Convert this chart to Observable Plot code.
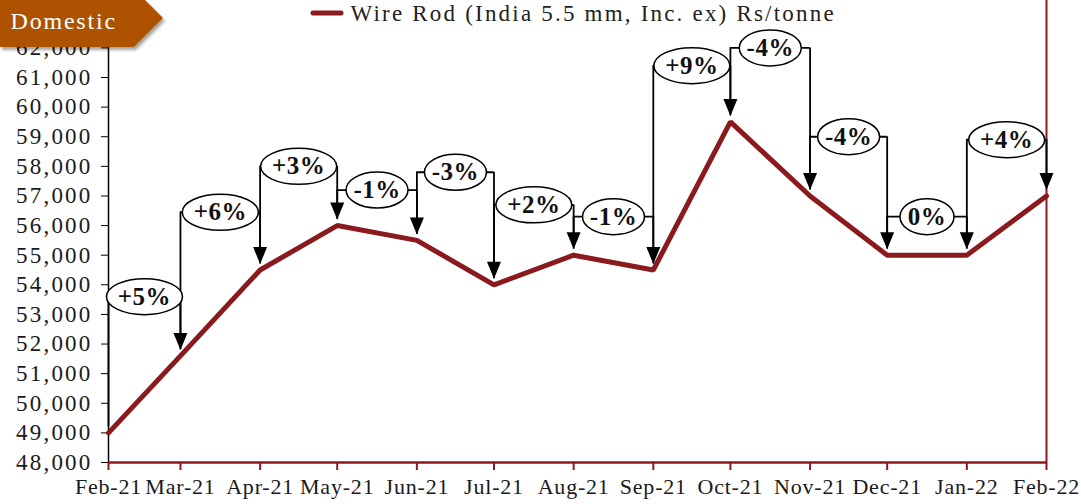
<!DOCTYPE html>
<html><head><meta charset="utf-8">
<script src="https://cdn.jsdelivr.net/npm/d3@7"></script>
<script src="https://cdn.jsdelivr.net/npm/@observablehq/plot@0.6"></script>
<style>
body{margin:0;background:#fff;}
#wrap{position:relative;width:1081px;height:504px;overflow:hidden;}
</style></head>
<body>
<div id="wrap">
  <div id="chart"></div>
</div>
<script>
const months = ["Feb-21","Mar-21","Apr-21","May-21","Jun-21","Jul-21","Aug-21","Sep-21","Oct-21","Nov-21","Dec-21","Jan-22","Feb-22"];
const prices = [49000, 51600, 54500, 56000, 55500, 54000, 55000, 54500, 59500, 57000, 55000, 55000, 57000];
const changes = ["+5%","+6%","+3%","-1%","-3%","+2%","-1%","+9%","-4%","-4%","0%","+4%"];
const calloutLevels = [53600, 56450, 58000, 57200, 57800, 56700, 56300, 61400, 62000, 59000, 56300, 58900];
const yTicks = [48000,49000,50000,51000,52000,53000,54000,55000,56000,57000,58000,59000,60000,61000,62000];
const seriesName = "Wire Rod (India 5.5 mm, Inc. ex) Rs/tonne";
const tagText = "Domestic";

const MAROON = "#8B1A1E";
const FONT = "'Liberation Serif', 'DejaVu Serif', serif";
const parse = d3.utcParse("%b-%y");
const dates = months.map(parse);
const labelMap = new Map(dates.map((d, i) => [+d, months[i]]));
const series = months.map((m, i) => ({date: dates[i], price: prices[i]}));
const callouts = changes.map((c, i) => ({
  x0: dates[i], x1: dates[i + 1],
  xm: new Date((+dates[i] + +dates[i + 1]) / 2),
  level: calloutLevels[i], prev: prices[i], cur: prices[i + 1], label: c
}));
const halfWidth = (s) => s.startsWith("+") ? 38 : s.startsWith("-") ? 31 : 27;

const ellipse = {
  draw(ctx, size) {
    const rx = Math.sqrt(size / Math.PI), ry = 18, k = 0.5523;
    ctx.moveTo(rx, 0);
    ctx.bezierCurveTo(rx, ry * k, rx * k, ry, 0, ry);
    ctx.bezierCurveTo(-rx * k, ry, -rx, ry * k, -rx, 0);
    ctx.bezierCurveTo(-rx, -ry * k, -rx * k, -ry, 0, -ry);
    ctx.bezierCurveTo(rx * k, -ry, rx, -ry * k, rx, 0);
    ctx.closePath();
  }
};
const arrowHead = {
  draw(ctx) { ctx.moveTo(0, 0); ctx.lineTo(-7, -17); ctx.lineTo(7, -17); ctx.closePath(); }
};

const chart = Plot.plot({
  width: 1081, height: 504,
  marginLeft: 108, marginRight: 35, marginTop: 0, marginBottom: 42,
  x: {type: "utc", domain: [dates[0], dates[dates.length - 1]]},
  y: {domain: [48000, 63600]},
  r: {type: "identity"},
  style: {fontFamily: FONT, background: "white", color: "#1a1a1a"},
  marks: [
    Plot.ruleX([dates[0]], {stroke: "black", strokeWidth: 1.5}),
    Plot.ruleX([dates[dates.length - 1]], {stroke: MAROON, strokeWidth: 2}),
    Plot.axisY({ticks: yTicks, tickSize: 7, tickPadding: 9, tickFormat: d3.format(","), fontSize: 23, stroke: "black", fill: "#1a1a1a", label: null}),
    Plot.axisX({ticks: dates, tickSize: 8, tickPadding: 8, tickFormat: d => labelMap.get(+d), stroke: MAROON, strokeWidth: 2, fill: "#1a1a1a", fontSize: 22, label: null}),
    Plot.ruleY([48000], {stroke: MAROON, strokeWidth: 2.5}),
    Plot.line(series, {x: "date", y: "price", stroke: MAROON, strokeWidth: 5, strokeLinejoin: "miter"}),
    Plot.ruleX(callouts, {x: "x0", y1: "level", y2: "prev", stroke: "black", strokeWidth: 1.8, insetBottom: 6}),
    Plot.ruleX(callouts, {x: "x1", y1: "level", y2: "cur", stroke: "black", strokeWidth: 1.8, insetBottom: 20}),
    Plot.ruleY(callouts, {y: "level", x1: "x0", x2: "x1", stroke: "black", strokeWidth: 1.8}),
    Plot.dot(callouts, {x: "x1", y: "cur", symbol: arrowHead, r: 5, fill: "black", stroke: "none", dy: -6}),
    Plot.dot(callouts, {x: "xm", y: "level", symbol: ellipse, r: d => halfWidth(d.label), fill: "white", stroke: "black", strokeWidth: 1.5}),
    Plot.text(callouts, {x: "xm", y: "level", text: "label", fontWeight: "bold", fontSize: 25, fill: "#111"}),
    // legend label and section tag text (positioned relative to the frame's top-left corner)
    Plot.text([seriesName], {frameAnchor: "top-left", text: d => d, textAnchor: "start", lineAnchor: "middle", dx: 242, dy: 13, fontSize: 23, fill: "#222"}),
    Plot.text([tagText], {frameAnchor: "top-left", text: d => d, textAnchor: "start", lineAnchor: "middle", dx: -98, dy: 21, fontSize: 24, fill: "#fff"})
  ]
});

const svg = d3.select(chart);
// widen letter spacing to approach the reference's Georgia proportions
svg.selectAll("g[aria-label='y-axis tick label'] text").attr("letter-spacing", 2.2);
svg.selectAll("g[aria-label='x-axis tick label'] text").attr("letter-spacing", 0.8);
const textGroups = svg.selectAll("g[aria-label='text']").nodes();
d3.select(textGroups[0]).selectAll("text").attr("letter-spacing", 0.5);
d3.select(textGroups[1]).selectAll("text").attr("letter-spacing", 2.2);
d3.select(textGroups[2]).selectAll("text").attr("letter-spacing", 1.8);

// tag shape + legend swatch (no text), inserted beneath the text marks
const defs = svg.append("defs");
defs.append("filter").attr("id", "tagShadow").attr("x", "-10%").attr("y", "-20%").attr("width", "130%").attr("height", "160%")
  .append("feDropShadow").attr("dx", 2).attr("dy", 3).attr("stdDeviation", 1.6).attr("flood-color", "#000").attr("flood-opacity", 0.35);
svg.insert("polygon", "g[aria-label='text']").attr("points", "0,0 145,0 163,18 134,47 0,47")
  .attr("fill", "#AD5204").attr("filter", "url(#tagShadow)");
svg.append("line").attr("x1", 313).attr("y1", 13).attr("x2", 341).attr("y2", 13)
  .attr("stroke", MAROON).attr("stroke-width", 5).attr("stroke-linecap", "round");

document.getElementById("chart").appendChild(chart);
</script>
</body></html>
